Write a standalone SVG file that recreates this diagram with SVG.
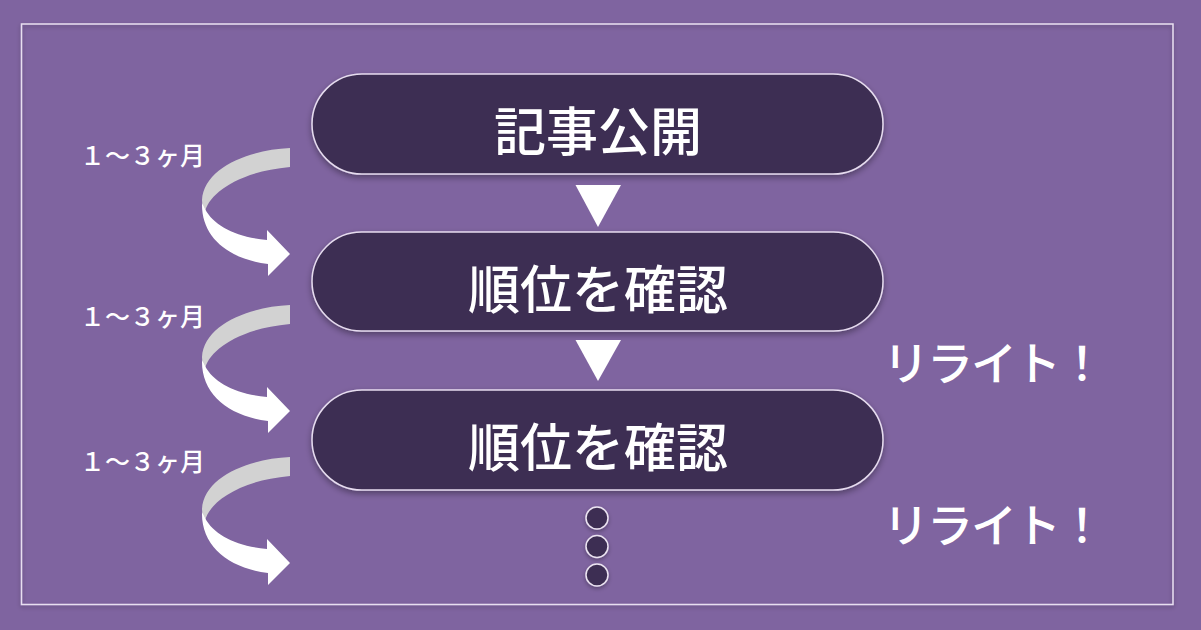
<svg xmlns="http://www.w3.org/2000/svg" width="1201" height="630" viewBox="0 0 1201 630">
  <defs>
    <filter id="sh" x="-10%" y="-20%" width="120%" height="150%">
      <feDropShadow dx="0" dy="3" stdDeviation="3" flood-color="#000" flood-opacity="0.35"/>
    </filter>
    <filter id="shs" x="-30%" y="-30%" width="160%" height="160%">
      <feDropShadow dx="0" dy="2" stdDeviation="2" flood-color="#000" flood-opacity="0.3"/>
    </filter>
    <g id="curl">
      <path class="back" d="M290,148 C248,150 204,168 202,200 C202,204 203,208 205,212 C208,196 235,172 290,167 Z"/>
      <path class="front" d="M202,203 C201,237 228,259 268,264 L268,276 L290,254 L267,230 L267,240 C236,237 214,226 205,209 Z"/>
    </g>
  </defs>
  <style>
    .pill { fill: #3e2f52; stroke: #e6dcef; stroke-width: 1.5; filter: url(#sh); }
    .ptext { font-family: "Noto Sans CJK JP", sans-serif; font-size: 52px; font-weight: 500; fill: #ffffff; text-anchor: middle; dominant-baseline: central; }
    .lbl { font-family: "Noto Sans CJK JP", sans-serif; font-size: 25px; font-weight: 500; fill: #ffffff; dominant-baseline: central; }
    .rw { font-family: "Noto Sans CJK JP", sans-serif; font-size: 46px; font-weight: 500; fill: #ffffff; letter-spacing: -2px; dominant-baseline: central; }
    .tri { fill: #ffffff; }
    .back { fill: #d2d2d2; }
    .front { fill: #ffffff; }
    .dot { fill: #3e2f52; stroke: #ece4f2; stroke-width: 1.5; filter: url(#shs); }
  </style>
  <rect x="0" y="0" width="1201" height="630" fill="#7f64a0"/>
  <rect x="21.5" y="24" width="1151.5" height="580.5" fill="none" stroke="#e8dff0" stroke-width="1.5" filter="url(#shs)"/>

  <g id="node-publish">
    <rect class="pill" x="312" y="74" width="571" height="100" rx="50" ry="50"/>
    <text class="ptext" x="598" y="128">記事公開</text>
  </g>
  <g id="node-check1">
    <rect class="pill" x="312" y="232" width="571" height="99" rx="49.5" ry="49.5"/>
    <text class="ptext" x="598" y="286">順位を確認</text>
  </g>
  <g id="node-check2">
    <rect class="pill" x="312" y="390" width="571" height="100" rx="50" ry="50"/>
    <text class="ptext" x="598" y="444">順位を確認</text>
  </g>
  <g id="node-more">
    <circle class="dot" cx="597" cy="518" r="11"/>
    <circle class="dot" cx="597" cy="546.5" r="11"/>
    <circle class="dot" cx="597" cy="575" r="11"/>
  </g>

  <g id="connectors">
    <polygon class="tri" points="575.5,185 621,185 598,227"/>
    <polygon class="tri" points="575.5,340 621,340 598,381"/>
    <use href="#curl"/>
    <use href="#curl" transform="translate(0,157)"/>
    <use href="#curl" transform="translate(0,309)"/>
  </g>

  <g id="labels">
    <text class="lbl" x="80" y="154">１～３ヶ月</text>
    <text class="lbl" x="80" y="315">１～３ヶ月</text>
    <text class="lbl" x="80" y="460">１～３ヶ月</text>
    <text class="rw" x="883" y="360">リライト！</text>
    <text class="rw" x="883" y="522">リライト！</text>
  </g>
</svg>
